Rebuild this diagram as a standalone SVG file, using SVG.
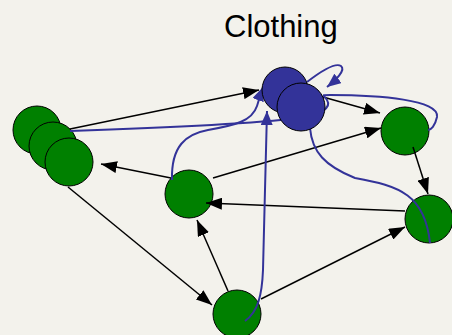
<svg xmlns="http://www.w3.org/2000/svg" width="452" height="335" viewBox="0 0 452 335">
  <style>
    .bg { fill: #f3f2ec; }
    .title { font-family: "Liberation Sans", Arial, sans-serif; font-size: 31px; fill: #000; }
    .green { fill: #008000; stroke: #000; stroke-width: 1; }
    .blue { fill: #333399; stroke: #000; stroke-width: 1; }
    .edge { stroke: #000; stroke-width: 1.5; fill: none; marker-end: url(#arrow); }
    .flow { stroke: #333399; stroke-width: 2; fill: none; }
    .flow-arrow { marker-end: url(#barrow); }
  </style>
  <defs>
    <marker id="arrow" markerUnits="userSpaceOnUse" markerWidth="16" markerHeight="12" viewBox="0 0 16 12" refX="16" refY="6" orient="auto">
      <path d="M0,0 L16,6 L0,12 Z" fill="#000"/>
    </marker>
    <marker id="barrow" markerUnits="userSpaceOnUse" markerWidth="14" markerHeight="12" viewBox="0 0 14 12" refX="14" refY="6" orient="auto">
      <path d="M0,0 L14,6 L0,12 Z" fill="#333399"/>
    </marker>
  </defs>

  <rect class="bg" x="0" y="0" width="452" height="335"/>
  <text class="title" x="224" y="37">Clothing</text>

  <!-- green nodes -->
  <g id="n-left-1"><circle class="green" cx="37" cy="130" r="24"/></g>
  <g id="n-left-2"><circle class="green" cx="53" cy="146" r="24"/></g>
  <g id="n-left-3"><circle class="green" cx="69" cy="162" r="24"/></g>
  <g id="n-mid"><circle class="green" cx="189" cy="194" r="24"/></g>
  <g id="n-right-top"><circle class="green" cx="405" cy="131" r="24"/></g>
  <g id="n-right-bottom"><circle class="green" cx="429" cy="219" r="24"/></g>
  <g id="n-bottom"><circle class="green" cx="237" cy="314" r="24"/></g>

  <!-- directed edges -->
  <g id="edges">
    <path class="edge" d="M70,129 L259,90"/>
    <path class="edge" d="M323,97 L380,113"/>
    <path class="edge" d="M213,178 L381,128"/>
    <path class="edge" d="M413,147 L428,194"/>
    <path class="edge" d="M405,211 L206,203"/>
    <path class="edge" d="M171,178 L101,164"/>
    <path class="edge" d="M68,187 L212,305"/>
    <path class="edge" d="M228,291 L197,220"/>
    <path class="edge" d="M261,299 L405,227"/>
  </g>

  <!-- flow curves -->
  <g id="flows">
    <path class="flow" d="M70,131 C160,128 250,124 300,118 C320,115 332,108 327,100 C324,95 320,95 330,95 C380,95 440,100 437,117 C435,126 431,130 428,130"/>
    <path class="flow flow-arrow" d="M172,180 C171,146 186,134 208,130 C236,125 252,121 257,106 C259,100 260,95 263,87"/>
    <path class="flow flow-arrow" d="M245,321 C258,312 262,295 263,270 C264,220 266,160 267,111"/>
    <path class="flow flow-arrow" d="M307,82 C320,72 335,62 341,66 C346,70 336,80 327,87"/>
    <path class="flow" d="M310,128 C312,152 325,166 355,178 C400,186 425,195 430,243"/>
  </g>

  <!-- blue nodes -->
  <g id="n-clothing-1"><circle class="blue" cx="285" cy="90" r="23"/></g>
  <g id="n-clothing-2"><circle class="blue" cx="301" cy="107" r="24"/></g>
</svg>
